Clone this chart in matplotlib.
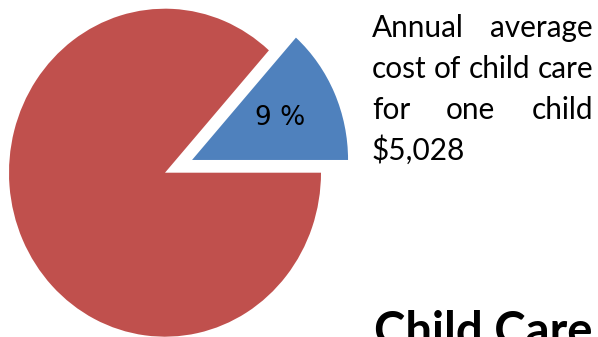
import matplotlib.pyplot as plt
import numpy as np

# Slice shares as drawn in the picture (blue slice labelled "9 %")
shares = [0.134, 0.866]
slice_labels = ['9 %', '']
colors = ['#4F81BD', '#C0504D']
explode = [0.19, 0]

caption_lines = ['Annual average', 'cost of child care', 'for one child', '$5,028']
title = 'Child Care'

W, H = 598, 337
fig = plt.figure(figsize=(W / 100, H / 100), dpi=100)

# pie axes: centre at (165, 172.7) px from top, slightly taller than wide
cx, cy, rx, ry = 165, 172.7, 156, 164
ax = fig.add_axes([(cx - rx) / W, (H - cy - ry) / H, 2 * rx / W, 2 * ry / H])
wedges, _ = ax.pie(shares, colors=colors, explode=explode, startangle=0,
                   counterclock=True, radius=1, frame=False)
ax.set_xlim(-1, 1)
ax.set_ylim(-1, 1)
ax.set_aspect('auto')
ax.axis('off')
for w in wedges:
    w.set_clip_on(False)

for w, lab in zip(wedges, slice_labels):
    if not lab:
        continue
    mid = np.deg2rad((w.theta1 + w.theta2) / 2)
    x = w.center[0] + 0.62 * np.cos(mid)
    y = w.center[1] + 0.62 * np.sin(mid)
    ax.text(x, y, lab, ha='center', va='center', fontsize=19,
            family='DejaVu Sans', color='black', clip_on=False)

# justified caption block on the right
fig.canvas.draw()
renderer = fig.canvas.get_renderer()
left_px, right_px = 372, 593

# pick a size so the widest unjustified line fills the column
probe = fig.text(0, 0, 'cost of child care', fontsize=18, family='Lato')
fs = 18 * (right_px - left_px) / probe.get_window_extent(renderer).width
probe.remove()


def width(s):
    t = fig.text(0, 0, s, fontsize=fs, family='Lato')
    w = t.get_window_extent(renderer).width
    t.remove()
    return w


space = width('a a') - width('aa')
base0, step = 37, 40.8
for i, line in enumerate(caption_lines):
    base = H - (base0 + i * step)
    words = line.split()
    last = i == len(caption_lines) - 1
    texts = [fig.text(0, base / H, wd, fontsize=fs, family='Lato', va='baseline')
             for wd in words]
    widths = [t.get_window_extent(renderer).width for t in texts]
    if last or len(words) == 1:
        sp = space
    else:
        sp = (right_px - left_px - sum(widths)) / (len(words) - 1)
    x = left_px
    for t, wd in zip(texts, widths):
        t.set_x(x / W)
        x += wd + sp

# title is cut by the bottom edge, as in the original
fig.text(374 / W, (H - 346) / H, title, fontsize=34, family='Lato',
         fontweight='bold', va='baseline', ha='left')

fig.savefig('out.png', dpi=100)
